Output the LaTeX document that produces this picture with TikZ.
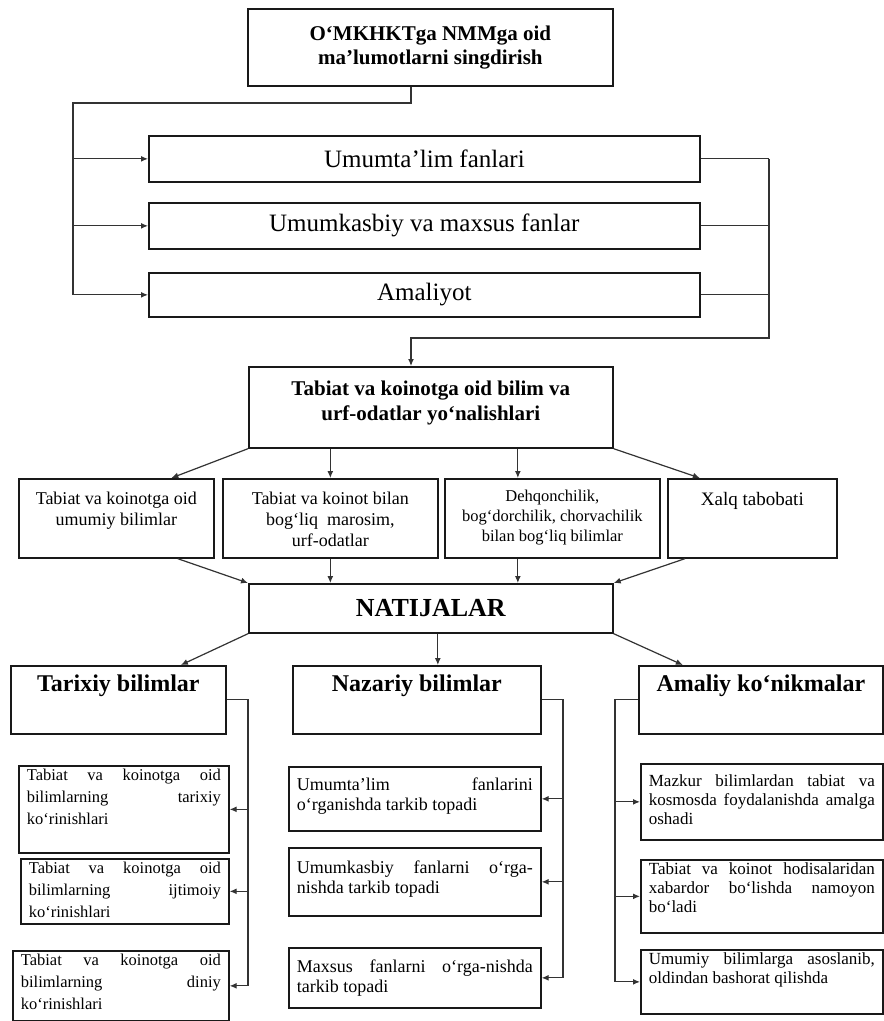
\documentclass[tikz,border=0pt]{standalone}
\usepackage{fontspec}
\setmainfont{Liberation Serif}
\usetikzlibrary{arrows.meta}
\newcommand{\fs}[2]{\fontsize{#1}{#2}\selectfont}
\newcommand{\toptext}[4]{\parbox[c][#2][t]{#1}{\vspace*{#3}#4}}
\newcommand{\midtext}[3]{\parbox[c][#2][c]{#1}{#3}}
\newcommand{\justtext}[4]{\parbox[c][#2][t]{#1}{\vspace*{#3}\sloppy#4}}
\tikzset{
  box/.style={draw=black!90, line width=1.7pt, anchor=north west, inner xsep=8pt, inner ysep=3pt},
  link/.style={draw=black!80, line width=1.2pt},
  arr/.style={link, -{Latex[length=7pt,width=6pt]}}
}

\begin{document}
\begin{tikzpicture}[x=1pt,y=-1pt]
			%%%%% START %%%%%
			\fill[white] (0,0) rectangle (884,1021);
			\useasboundingbox (0,0) rectangle (884,1021);
			
			\node[box] (top) at (247,8) {\midtext{349pt}{71pt}{\centering\bfseries\fs{21}{24}O‘MKHKTga NMMga oid\\ ma’lumotlarni singdirish}};
			
			\node[box] (u1) at (148,135) {\midtext{535pt}{40pt}{\centering\fs{25}{30}Umumta’lim fanlari}};
			\node[box] (u2) at (148,202) {\midtext{535pt}{40pt}{\centering\fs{25}{30}Umumkasbiy va maxsus fanlar}};
			\node[box] (u3) at (148,272) {\midtext{535pt}{38pt}{\centering\fs{25}{30}Amaliyot}};
			
			\node[box] (tab) at (248,366) {\toptext{348pt}{75pt}{11pt}{\centering\bfseries\fs{21}{25}Tabiat va koinotga oid bilim va\\ urf-odatlar yo‘nalishlari}};
			
			\node[box] (m1) at (18,478) {\toptext{179pt}{73pt}{10pt}{\centering\fs{18}{21}Tabiat va koinotga oid\\ umumiy bilimlar}};
			\node[box] (m2) at (222,478) {\toptext{199pt}{73pt}{10pt}{\centering\fs{18}{21}Tabiat va koinot bilan\\ bog‘liq\ \ marosim,\\ urf-odatlar}};
			\node[box] (m3) at (444,478) {\toptext{199pt}{73pt}{8pt}{\centering\fs{16.5}{20}Dehqonchilik,\\ bog‘dorchilik, chorvachilik\\ bilan bog‘liq bilimlar}};
			\node[box] (m4) at (667,478) {\toptext{153pt}{73pt}{10pt}{\centering\fs{19}{22}Xalq tabobati}};
			
			\node[box] (nat) at (248,583) {\midtext{348pt}{43pt}{\centering\bfseries\fs{26}{30}NATIJALAR}};
			
			\node[box] (h1) at (10,665) {\toptext{199pt}{62pt}{6pt}{\centering\bfseries\fs{24}{28}Tarixiy bilimlar}};
			\node[box] (h2) at (292,665) {\toptext{232pt}{62pt}{6pt}{\centering\bfseries\fs{24}{28}Nazariy bilimlar}};
			\node[box] (h3) at (638,665) {\toptext{228pt}{62pt}{6pt}{\centering\bfseries\fs{24}{28}Amaliy ko‘nikmalar}};
			
			\node[box] (t1) at (18,765) {\justtext{194pt}{81pt}{0pt}{\fs{16.5}{22}Tabiat va koinotga oid\linebreak bilimlarning tarixiy\linebreak ko‘rinishlari}};
			\node[box] (t2) at (20,858) {\justtext{192pt}{59pt}{0pt}{\fs{16.5}{22}Tabiat va koinotga oid\linebreak bilimlarning ijtimoiy\linebreak ko‘rinishlari}};
			\node[box] (t3) at (12,950) {\justtext{200pt}{64pt}{0pt}{\fs{16.5}{22}Tabiat va koinotga oid\linebreak bilimlarning diniy\linebreak ko‘rinishlari}};
			
			\node[box] (n1) at (288,766) {\justtext{236pt}{58pt}{8pt}{\fs{18}{20}Umumta’lim fanlarini\linebreak o‘rganishda tarkib topadi}};
			\node[box] (n2) at (288,847) {\justtext{236pt}{62pt}{10pt}{\fs{18}{20}Umumkasbiy fanlarni o‘rga-\linebreak nishda tarkib topadi}};
			\node[box] (n3) at (288,947) {\justtext{236pt}{54pt}{9pt}{\fs{18}{20}Maxsus fanlarni o‘rga-nishda\linebreak tarkib topadi}};
			
			\node[box] (a1) at (640,763) {\justtext{226pt}{70pt}{8pt}{\fs{17}{19}Mazkur bilimlardan tabiat va\linebreak kosmosda foydalanishda amalga\linebreak oshadi}};
			\node[box] (a2) at (640,859) {\justtext{226pt}{67pt}{0pt}{\fs{17}{19}Tabiat va koinot hodisalaridan\linebreak xabardor bo‘lishda namoyon\linebreak bo‘ladi}};
			\node[box] (a3) at (640,949) {\justtext{226pt}{58pt}{0pt}{\fs{17}{19}Umumiy bilimlarga asoslanib,\linebreak oldindan bashorat qilishda}};
			
			% top part
			\coordinate (dropT) at (411,103);
			\coordinate (railL) at (73,103);
			\coordinate (railR) at (769,338);
			\draw[link] (top.south -| dropT) -- (dropT) -- (railL) -- (railL |- u3.west);
			\foreach \n in {u1,u2,u3}
				\draw[arr] (railL |- \n.west) -- (\n.west);
			\foreach \n in {u1,u2,u3}
				\draw[link] (\n.east) -- (\n.east -| railR);
			\draw[arr] (railR |- u1.east) -- (railR) -- (railR -| dropT) -- (dropT |- tab.north);
			
			% middle part
			\coordinate (c3) at ([xshift=-34.5pt]m3.north);
			\draw[arr] (tab.south west) -- ([xshift=55pt]m1.north);
			\draw[arr] (tab.south -| m2.north) -- (m2.north);
			\draw[arr] (c3 |- tab.south) -- (c3);
			\draw[arr] (tab.south east) -- ([xshift=-52.5pt]m4.north);
			
			\draw[arr] ([xshift=61.5pt]m1.south) -- (nat.north west);
			\draw[arr] (m2.south) -- (m2.south |- nat.north);
			\draw[arr] (c3 |- m3.south) -- (c3 |- nat.north);
			\draw[arr] ([xshift=-67.5pt]m4.south) -- (nat.north east);
			
			\coordinate (c5) at ([xshift=7pt]nat.south);
			\draw[arr] (nat.south west) -- ([xshift=62.5pt]h1.north);
			\draw[arr] (c5) -- (c5 |- h2.north);
			\draw[arr] (nat.south east) -- ([xshift=-78pt]h3.north);
			
			% bottom part
			\coordinate (railA) at (248,0);
			\coordinate (railB) at (563,0);
			\coordinate (railC) at (615,0);
			\draw[link] (h1.east) -| (railA |- t3.east);
			\foreach \n in {t1,t2,t3}
				\draw[arr] (railA |- \n.east) -- (\n.east);
			\draw[link] (h2.east) -| (railB |- n3.east);
			\foreach \n in {n1,n2,n3}
				\draw[arr] (railB |- \n.east) -- (\n.east);
			\draw[link] (h3.west) -| (railC |- a3.west);
			\foreach \n in {a1,a2,a3}
				\draw[arr] (railC |- \n.west) -- (\n.west);
			
			%%%%% END %%%%%
\end{tikzpicture}
\end{document}
